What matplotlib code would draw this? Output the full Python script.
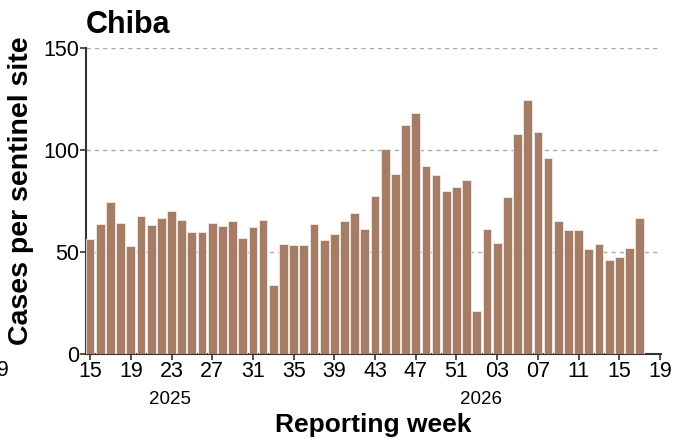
import matplotlib
matplotlib.use("Agg")
import matplotlib.pyplot as plt
import numpy as np

plt.rcParams['font.family'] = ['Liberation Sans', 'DejaVu Sans']

# weekly data, 2025 week 15 .. 2026 week 17
weeks = [str(w) for w in range(15, 53)] + ['%02d' % w for w in range(1, 18)]
cases = [56.4, 63.7, 74.4, 64.2, 52.8, 67.5, 63.4, 66.5, 70.0, 65.6,
         60.0, 59.8, 64.1, 62.6, 65.2, 56.7, 62.3, 65.6, 33.8, 53.8,
         53.5, 53.3, 63.7, 55.9, 58.7, 65.3, 69.0, 61.1, 77.6, 100.4,
         88.2, 112.0, 118.0, 92.3, 87.9, 79.7, 81.8, 85.3,
         21.2, 61.1, 54.6, 76.8, 107.6, 124.6, 108.6, 95.9, 65.4, 60.8,
         60.7, 51.5, 53.8, 46.1, 47.4, 52.2, 66.5]
tick_labels = ['15', '19', '23', '27', '31', '35', '39', '43', '47', '51',
               '03', '07', '11', '15', '19']
years = ['2025', '2026']

fig = plt.figure(figsize=(6.87, 4.43), dpi=100)
ax = fig.add_axes([0.1252, 0.2002, 0.837, 0.6921])

x = np.arange(len(cases))
ax.bar(x, cases, width=0.86, color='#A57C66', edgecolor='#f3ebe6', linewidth=0.6, zorder=3)

ax.set_ylim(0, 150)
ax.set_xlim(-0.4, 56.1)
ax.set_yticks([0, 50, 100, 150])
ax.set_xticks(np.arange(0, 57, 4))
ax.set_xticklabels(tick_labels)
ax.tick_params(labelsize=15.5, length=4, width=1.2, color='#333333', pad=1)
ax.yaxis.grid(True, linestyle=(0, (3, 3)), color='#aaaaaa', linewidth=1.0, zorder=0)

for s in ['top', 'right']:
    ax.spines[s].set_visible(False)
for s in ['left', 'bottom']:
    ax.spines[s].set_color('#333333')
    ax.spines[s].set_linewidth(1.5)

ax.set_ylabel('Cases per sentinel site', fontsize=20.5, fontweight='bold')
ax.yaxis.set_label_coords(-0.09, 0.535)
ax.set_xlabel('Reporting week', fontsize=19, fontweight='bold')
ax.xaxis.set_label_coords(0.5, -0.19)

trans = ax.get_xaxis_transform()
ax.text(7.9, -0.149, years[0], transform=trans, ha='center', va='center', fontsize=13.5)
ax.text(38.4, -0.149, years[1], transform=trans, ha='center', va='center', fontsize=13.5)

fig.text(86 / 687, 1 - 25 / 443, 'Chiba', fontsize=22, fontweight='bold', ha='left', va='center')
# clipped tick label from neighbouring panel
fig.text(9 / 687, 1 - 371 / 443, '19', fontsize=15.5, ha='right', va='center')

fig.savefig('out.png', dpi=100)
